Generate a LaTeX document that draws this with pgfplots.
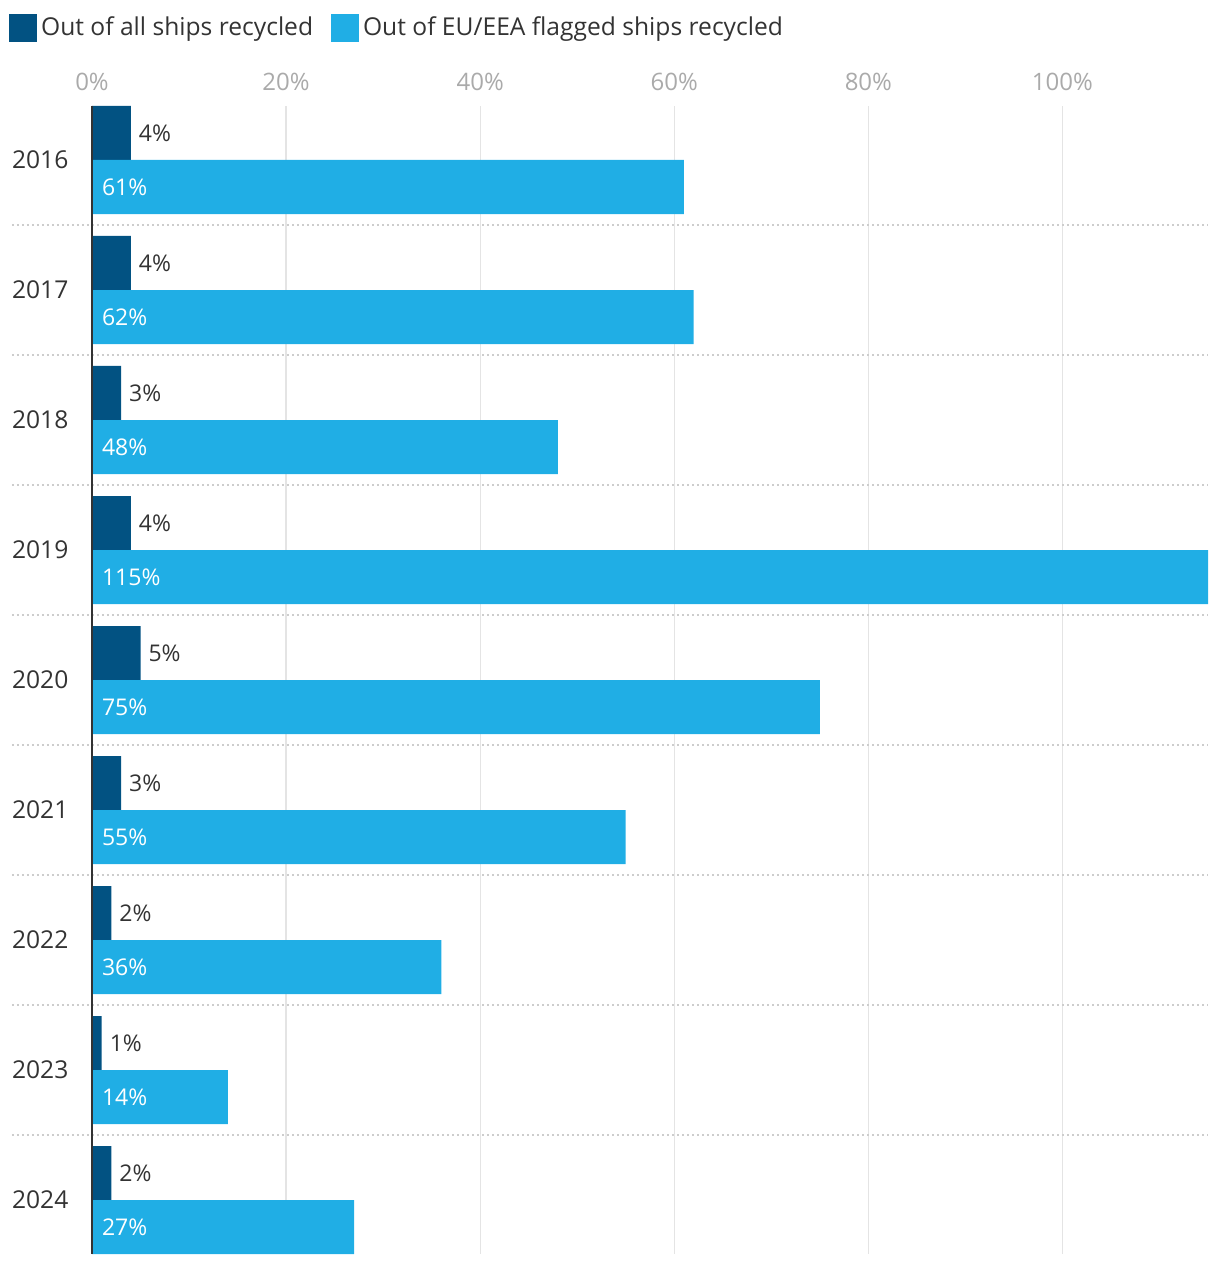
\documentclass[border=0pt]{standalone}
\usepackage{fontspec}
\setmainfont{Open Sans}
\usepackage{pgfplots}
\pgfplotsset{compat=1.18}

\definecolor{darkbar}{RGB}{2,82,130}
\definecolor{lightbar}{RGB}{32,174,229}
\definecolor{txt}{RGB}{51,51,51}
\definecolor{tick}{RGB}{170,170,170}
\definecolor{gridc}{RGB}{228,228,228}
\definecolor{sepc}{RGB}{205,205,205}

\begin{document}
\begin{tikzpicture}
\begin{axis}[
  scale only axis,
  width=558pt, height=574pt,
  bar width=0.4154,
  xmin=0, xmax=115,
  ymin=-0.4154, ymax=8.4154,
  y dir=reverse,
  /pgf/number format/assume math mode=true,
  axis line style={draw=none},
  major tick length=0,
  xtick={0,20,40,60,80,100},
  xticklabel pos=upper,
  xticklabel={\pgfmathprintnumber{\tick}\%},
  xticklabel style={font=\fontsize{12}{14}\selectfont, text=tick, yshift=4pt},
  xmajorgrids, grid style={gridc, line width=0.6pt},
  ytick={0,...,8},
  yticklabels={2016,2017,2018,2019,2020,2021,2022,2023,2024},
  yticklabel style={font=\fontsize{12.3}{14}\selectfont, text=txt, anchor=west, xshift=-43.5pt},
  clip=false,
  legend columns=2,
  legend style={draw=none, at={(-0.080,1.085)}, anchor=north west, font=\fontsize{12.3}{14}\selectfont, text=txt,
    /tikz/every even column/.append style={column sep=7pt}},
  legend image code/.code={\fill[#1] (0pt,-7pt) rectangle (14pt,7pt);},
]
\pgfplotsinvokeforeach{0,...,7}{
  \draw[sepc, line width=0.7pt, dash pattern=on 1pt off 1.5pt] ([xshift=-40pt]axis cs:0,#1+0.5) -- (axis cs:115,#1+0.5);
}
\addplot[xbar, fill=darkbar, draw=none, bar shift=-0.2077,
  nodes near coords={\pgfmathprintnumber{\pgfplotspointmeta}\%},
  every node near coord/.append style={anchor=west, text=txt, font=\fontsize{11.5}{13}\selectfont, xshift=0.5pt, yshift=13.5pt}]
  coordinates {(4,0) (4,1) (3,2) (4,3) (5,4) (3,5) (2,6) (1,7) (2,8)};
\addlegendentry{Out of all ships recycled}
\addplot[xbar, fill=lightbar, draw=none, bar shift=0.2077]
  coordinates {(61,0) (62,1) (48,2) (115,3) (75,4) (55,5) (36,6) (14,7) (27,8)};
\addlegendentry{Out of EU/EEA flagged ships recycled}
\addplot[forget plot, draw=none, mark=none, nodes near coords, point meta=explicit symbolic,
  every node near coord/.append style={anchor=west, text=white, font=\fontsize{11.5}{13}\selectfont, xshift=1.5pt}]
  coordinates {(0,0.2077) [61\%] (0,1.2077) [62\%] (0,2.2077) [48\%] (0,3.2077) [115\%] (0,4.2077) [75\%]
    (0,5.2077) [55\%] (0,6.2077) [36\%] (0,7.2077) [14\%] (0,8.2077) [27\%]};
\draw[txt, line width=1pt] (axis cs:0,-0.4154) -- (axis cs:0,8.4154);
\coordinate (bl) at (axis cs:0,8.4154);
\coordinate (tr) at (axis cs:115,-0.4154);
\end{axis}
\pgfresetboundingbox
\path ([shift={(-46pt,-6pt)}]bl) rectangle ([shift={(6pt,53pt)}]tr);
\end{tikzpicture}
\end{document}
